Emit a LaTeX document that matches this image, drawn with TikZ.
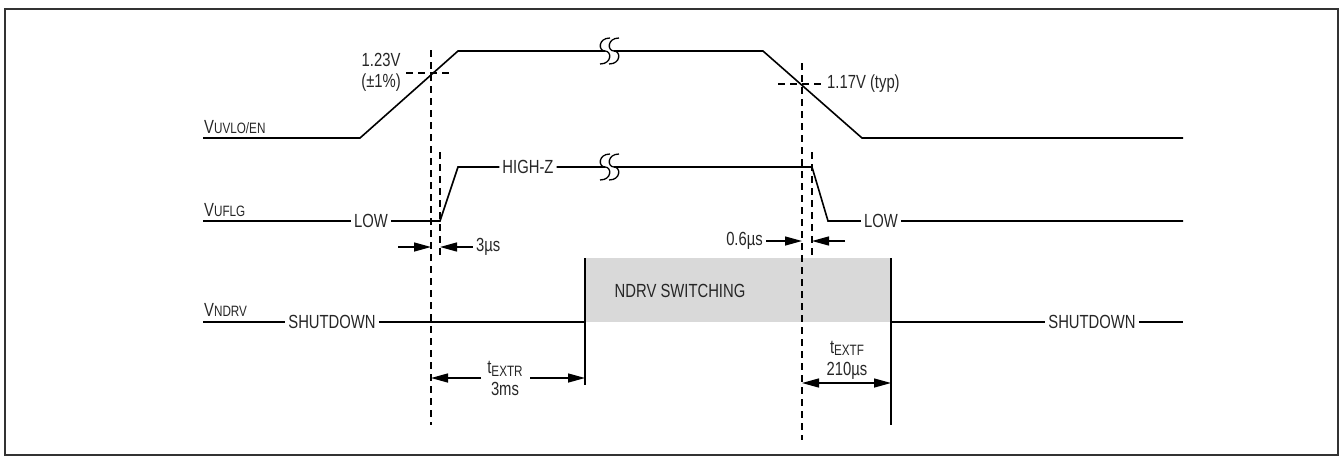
\documentclass[tikz,border=0pt]{standalone}
\usepackage{fontspec}
\setmainfont{Liberation Sans}[FakeStretch=0.78]
\usetikzlibrary{arrows.meta}
\newcommand{\sm}[2][0pt]{\raisebox{#1}{\fontsize{15}{15}\selectfont #2}}
\newcommand{\brk}[2]{\draw[line width=1.3pt] (#1+5,#2-13) .. controls (#1-7,#2-13) and (#1-7,#2) .. (#1,#2) .. controls (#1+7,#2) and (#1+7,#2+13) .. (#1-5,#2+13);}

\begin{document}
\begin{tikzpicture}
[x=1pt,y=-1pt,
  sig/.style={line width=1.6pt},
  guide/.style={line width=1.4pt,dash pattern=on 7pt off 5pt},
  dim/.style={line width=1.4pt,-{Triangle[length=17pt,width=9pt]}},
  dimboth/.style={line width=1.4pt,{Triangle[length=17pt,width=9pt]}-{Triangle[length=17pt,width=9pt]}},
  every node/.style={inner sep=3pt,text=black!85,font=\fontsize{19}{21}\selectfont}]
\useasboundingbox (0,0) rectangle (1341,459);
\draw[line width=2pt,black!80] (5,9) rectangle (1338,455);
\fill[black!15] (585,258) rectangle (891,322);

% UVLO/EN
\node[anchor=base west] (uvlo) at (201,133) {V\sm{UVLO/EN}};
\coordinate (u0) at (203,138);
\coordinate (u1) at (360,138);
\coordinate (u2) at (458,51);
\coordinate (ub1) at (605,51);
\coordinate (ub2) at (614,51);
\coordinate (u3) at (763,51);
\coordinate (u4) at (862,138);
\coordinate (u5) at (1183,138);
\draw[sig] (u0) -- (u1) -- (u2) -- (ub1);
\draw[sig] (ub2) -- (u3) -- (u4) -- (u5);
\brk{605}{51}
\brk{614}{51}

% UFLG
\node[anchor=base west] (uflg) at (201,216) {V\sm{UFLG}};
\node (lowL) at (371,221) {LOW};
\node (hiz) at (528,167) {HIGH-Z};
\node (lowR) at (881,221) {LOW};
\coordinate (f0) at (203,221);
\coordinate (f1) at (440,221);
\coordinate (f2) at (458,167);
\coordinate (fb1) at (605,167);
\coordinate (fb2) at (614,167);
\coordinate (f3) at (812,167);
\coordinate (f4) at (828,221);
\coordinate (f5) at (1183,221);
\draw[sig] (f0) -- (lowL) -- (f1) -- (f2) -- (hiz) -- (fb1);
\draw[sig] (fb2) -- (f3) -- (f4) -- (lowR) -- (f5);
\brk{605}{167}
\brk{614}{167}

% NDRV
\node[anchor=base west] (ndrv) at (201,316) {V\sm{NDRV}};
\node (sdL) at (332,322) {SHUTDOWN};
\node (sw) at (680,291) {NDRV SWITCHING};
\node (sdR) at (1092,322) {SHUTDOWN};
\coordinate (n0) at (203,322);
\coordinate (n1) at (585,322);
\coordinate (n2) at (585,258);
\coordinate (n3) at (585,385);
\coordinate (n4) at (891,258);
\coordinate (n5) at (891,425);
\coordinate (n6) at (891,322);
\coordinate (n7) at (1183,322);
\draw[sig] (n0) -- (sdL) -- (n1);
\draw[sig] (n2) -- (n3);
\draw[sig] (n4) -- (n5);
\draw[sig] (n6) -- (sdR) -- (n7);

% guides
\draw[guide] (431,50) -- (431,425);
\draw[guide] (440,152) -- (440,256);
\draw[guide] (802,63) -- (802,440);
\draw[guide] (812,152) -- (812,256);
\draw[guide] (406,73) -- (452,73);
\draw[guide] (778,84) -- (826,84);
\node[anchor=east,align=center] (v123) at (404,72) {1.23V\\(±1\%)};
\node[anchor=west] (v117) at (824,84) {1.17V (typ)};

% timings
\node[anchor=west] (t3us) at (473,247) {3µs};
\node[anchor=east] (t06) at (766,241) {0.6µs};
\draw[dim] (398,247) -- (431,247);
\draw[dim] (t3us) -- (440,247);
\draw[dim] (t06) -- (802,241);
\draw[dim] (845,241) -- (812,241);
\node[anchor=base] (textr) at (505,373) {t\sm[-3pt]{EXTR}};
\node[anchor=base] (ms3) at (505,395) {3ms};
\draw[dim] (481,378) -- (431,378);
\draw[dim] (530,378) -- (585,378);
\node[anchor=base] (textf) at (847,353) {t\sm[-2pt]{EXTF}};
\node[anchor=base] (us210) at (847,375) {210µs};
\draw[dimboth] (802,383) -- (891,383);
\end{tikzpicture}
\end{document}
